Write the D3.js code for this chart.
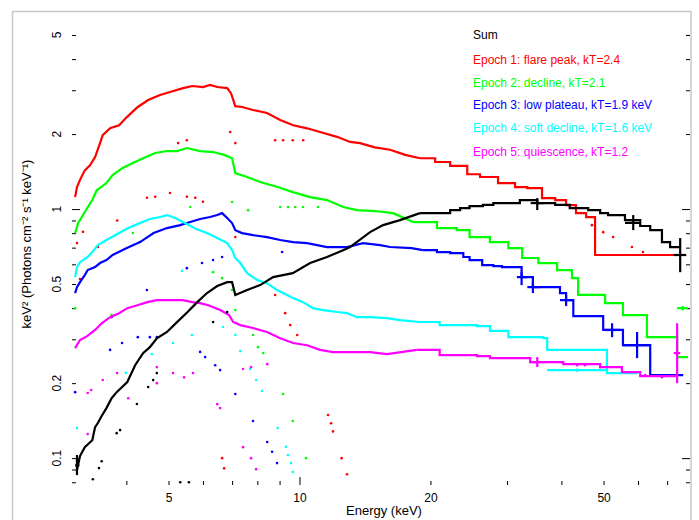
<!DOCTYPE html>
<html><head><meta charset="utf-8">
<script src="https://cdn.jsdelivr.net/npm/d3@7"></script>
<style>html,body{margin:0;padding:0;background:#fff;} svg{display:block;}</style>
</head><body>
<svg id="chart" width="699" height="520"></svg>
<script>
// Unfolded spectra: [energy keV, keV^2 flux] per bin (bin start for the wide bins)
const blackSpec = [[3.08,0.0895],[3.13,0.1019],[3.21,0.1107],[3.34,0.118],[3.39,0.1332],[3.44,0.1383],[3.51,0.1476],[3.60,0.1588],[3.70,0.174],[3.80,0.184],[4.02,0.202],[4.19,0.236],[4.37,0.264],[4.53,0.279],[4.70,0.303],[4.96,0.321],[5.23,0.3516],[5.53,0.386],[5.79,0.419],[6.13,0.460],[6.47,0.491],[6.82,0.509],[7.0,0.509],[7.12,0.452],[7.58,0.473],[8.12,0.495],[8.70,0.533],[9.65,0.553],[10.58,0.607],[11.57,0.642],[12.6,0.684],[13.07,0.704],[14.53,0.808],[15.57,0.862],[17.02,0.903],[18.92,0.963],[21.0,0.963],[22.2,0.991],[23.4,1.009],[24.6,1.028],[26.4,1.04],[27.9,1.057],[30.0,1.057],[32.1,1.087],[35.2,1.057],[38.7,1.04],[41.8,1.009],[46.1,0.991],[49.1,0.963],[51.2,0.946],[56.0,0.903],[60.7,0.855],[64.0,0.823],[68.1,0.737],[71.1,0.704]];
const redSpec = [[3.05,1.117],[3.08,1.226],[3.13,1.31],[3.21,1.43],[3.30,1.50],[3.39,1.618],[3.48,1.84],[3.53,1.98],[3.67,2.11],[3.85,2.17],[4.01,2.34],[4.25,2.57],[4.49,2.74],[4.78,2.87],[5.04,2.95],[5.40,3.06],[5.67,3.12],[6.0,3.09],[6.23,3.15],[6.47,3.09],[6.82,3.06],[6.96,2.92],[7.12,2.59],[7.38,2.57],[7.82,2.50],[8.42,2.43],[9.03,2.28],[9.67,2.17],[10.41,2.11],[11.15,2.04],[12.2,1.95],[13.07,1.86],[13.78,1.84],[14.9,1.77],[16.15,1.73],[17.5,1.65],[18.92,1.60],[20.5,1.545],[22.2,1.49],[24.3,1.38],[26.0,1.345],[28.6,1.27],[31.3,1.226],[33.4,1.214],[36.1,1.107],[38.7,1.087],[41.0,1.038],[43.2,0.963],[45.6,0.929],[47.8,0.654]];
const greenSpec = [[3.05,0.801],[3.10,0.879],[3.21,0.973],[3.34,1.087],[3.42,1.19],[3.60,1.272],[3.72,1.37],[3.92,1.461],[4.14,1.53],[4.37,1.60],[4.66,1.679],[4.96,1.71],[5.23,1.71],[5.51,1.758],[5.91,1.71],[6.33,1.694],[6.71,1.65],[7.0,1.60],[7.12,1.395],[7.58,1.345],[8.12,1.284],[8.91,1.226],[9.65,1.17],[10.58,1.117],[11.57,1.087],[12.6,1.019],[13.56,0.991],[14.92,0.982],[16.41,0.963],[18.24,0.887],[20.7,0.839],[23.0,0.823],[24.6,0.772],[27.4,0.737],[30.2,0.697],[32.5,0.636],[35.4,0.607],[39.1,0.569],[42.3,0.528],[43.7,0.452],[50.4,0.419],[55.4,0.375],[62.9,0.306],[73.8,0.2545]];
const blueSpec = [[3.05,0.460],[3.08,0.486],[3.13,0.509],[3.21,0.543],[3.26,0.569],[3.39,0.585],[3.48,0.607],[3.60,0.624],[3.72,0.654],[4.01,0.697],[4.30,0.737],[4.62,0.801],[4.96,0.839],[5.32,0.862],[5.61,0.887],[5.91,0.912],[6.23,0.929],[6.47,0.946],[6.64,0.963],[6.82,0.92],[7.0,0.879],[7.12,0.823],[7.38,0.801],[7.82,0.786],[8.42,0.772],[9.03,0.751],[9.67,0.737],[10.41,0.730],[11.57,0.704],[12.86,0.704],[14.0,0.730],[15.32,0.717],[16.15,0.704],[18.1,0.697],[19.2,0.684],[20.7,0.672],[22.2,0.666],[23.8,0.642],[24.6,0.624],[26.3,0.596],[27.9,0.590],[29.2,0.585],[30.8,0.585],[32.4,0.533],[34.4,0.486],[37.6,0.486],[39.7,0.460],[41.0,0.431],[42.6,0.3715],[49.9,0.327],[55.4,0.284],[64.0,0.2154]];
const cyanSpec = [[3.05,0.533],[3.08,0.585],[3.13,0.612],[3.26,0.642],[3.34,0.672],[3.44,0.717],[3.60,0.751],[3.85,0.801],[4.04,0.839],[4.30,0.879],[4.53,0.912],[4.78,0.929],[4.96,0.946],[5.18,0.920],[5.51,0.871],[5.79,0.831],[6.13,0.801],[6.47,0.765],[6.82,0.730],[7.0,0.684],[7.12,0.636],[7.31,0.607],[7.58,0.553],[7.99,0.519],[8.42,0.504],[8.88,0.473],[9.36,0.452],[9.67,0.439],[10.19,0.423],[10.74,0.40],[11.33,0.393],[12.2,0.386],[12.86,0.382],[13.56,0.368],[14.53,0.368],[15.9,0.365],[17.02,0.358],[18.92,0.352],[21.0,0.342],[23.4,0.342],[25.6,0.339],[27.4,0.324],[30.2,0.306],[33.0,0.306],[36.3,0.303],[37.1,0.272],[50.9,0.2195]];
const magentaSpec = [[3.05,0.2765],[3.13,0.298],[3.25,0.309],[3.39,0.327],[3.51,0.348],[3.67,0.368],[3.85,0.382],[4.02,0.40],[4.24,0.411],[4.47,0.423],[4.70,0.431],[5.04,0.431],[5.39,0.431],[5.67,0.423],[5.91,0.419],[6.17,0.411],[6.57,0.393],[6.89,0.375],[7.04,0.352],[7.31,0.342],[7.82,0.333],[8.42,0.321],[9.03,0.303],[9.67,0.290],[10.41,0.284],[11.15,0.272],[11.94,0.2665],[12.86,0.2665],[13.56,0.2665],[14.53,0.2665],[15.9,0.2616],[18.6,0.272],[21.0,0.259],[23.4,0.259],[25.6,0.2568],[27.4,0.252],[29.4,0.252],[33.9,0.243],[40.4,0.2384],[49.1,0.232],[55.1,0.2215],[60.7,0.2135]];

// Upper energy edge of the last bin of each spectrum
const specEnds = [75.0, 77.4, 78.2, 76.2, 59.7, 73.8];
// Above this energy the bins are wide enough to be drawn as steps
const stepAbove = 20;

// Wide high-energy bins: [E, value, E low, E high, value low, value high]
const blackErr = [[3.08,0.0935,3.05,3.12,0.0855,0.1029],[35.2,1.057,34.0,36.5,0.991,1.107],[58.5,0.88,56.0,60.7,0.823,0.946],[75.0,0.654,72.5,77.4,0.558,0.765]];
const redErr = [];
const greenErr = [[76.0,0.40,73.8,78.2,0.392,0.408]];
const blueErr = [[32.4,0.533,31.6,33.4,0.495,0.558],[34.4,0.486,33.4,35.7,0.460,0.514],[41.0,0.431,39.7,42.6,0.408,0.452],[52.3,0.327,50.4,54.6,0.306,0.348],[59.7,0.284,55.4,64.0,0.252,0.321]];
const cyanErr = [[43.5,0.2256,37.1,50.9,0.222,0.229]];
const magentaErr = [[73.8,0.264,72.5,75.0,0.200,0.348],[35.2,0.243,33.9,36.9,0.232,0.2545]];

// Model components, drawn dotted: [E, value]
const blackComp = [[6.33,0.352],[6.82,0.386],[4.23,0.165],[3.87,0.1296],[3.80,0.126],[4.49,0.193],[4.61,0.2057],[4.70,0.2195],[3.51,0.0972],[3.46,0.0912],[3.35,0.0823],[5.32,0.080],[5.57,0.080]];
const redComp = [[5.26,1.84],[5.51,1.89],[6.93,2.04],[7.12,1.84],[8.79,1.89],[9.17,1.89],[9.65,1.89],[10.2,1.89],[4.46,1.11],[4.66,1.12],[5.04,1.16],[5.51,1.12],[5.76,1.11],[6.0,1.07],[3.08,0.73],[3.18,0.81],[3.44,0.704],[3.81,0.90],[3.13,0.524],[7.12,0.772],[8.79,0.452],[9.27,0.382],[9.52,0.342],[9.88,0.312],[11.63,0.149],[11.82,0.138],[11.94,0.128],[6.64,0.100],[6.71,0.091],[12.5,0.100],[12.86,0.0862],[47.0,0.862],[49.9,0.808],[52.6,0.772],[58.1,0.704],[61.6,0.672]];
const greenComp = [[5.61,1.019],[7.0,1.067],[7.62,0.99],[9.03,1.019],[9.41,1.019],[9.77,1.019],[10.19,1.019],[11.03,1.019],[4.14,0.801],[4.30,0.737],[6.33,0.558],[6.64,0.528],[7.0,0.473],[7.12,0.393],[7.82,0.312],[8.03,0.279],[8.25,0.264],[9.17,0.181],[9.65,0.141],[10.35,0.100],[3.05,0.40],[3.70,0.375]];
const blueComp = [[9.12,0.672],[5.97,0.607],[6.33,0.624],[6.64,0.642],[5.51,0.579],[4.46,0.473],[3.70,0.3684],[3.91,0.290],[4.25,0.306],[4.53,0.306],[4.70,0.306],[3.67,0.272],[5.91,0.267],[6.07,0.2545],[6.40,0.236],[6.57,0.2256],[7.12,0.181],[7.82,0.141],[8.43,0.116],[8.65,0.106],[8.88,0.0955],[3.05,0.184]];
const cyanComp = [[5.37,0.564],[5.12,0.290],[5.66,0.312],[6.67,0.336],[7.12,0.312],[7.31,0.269],[7.70,0.228],[7.95,0.206],[8.20,0.186],[8.91,0.132],[9.31,0.111],[9.41,0.103],[9.56,0.0955],[9.65,0.0879],[4.58,0.262],[3.99,0.22],[3.08,0.132]];
const magentaComp = [[3.53,0.206],[3.81,0.2195],[4.04,0.174],[3.26,0.1826],[3.32,0.1876],[4.70,0.232],[4.70,0.200],[5.12,0.2195],[5.43,0.211],[5.69,0.2195],[6.47,0.1647],[6.57,0.1588],[7.42,0.228],[7.74,0.232],[8.43,0.2384],[7.42,0.1107],[7.74,0.100],[7.95,0.0903],[3.26,0.1249],[40.1,0.243],[43.5,0.236],[45.3,0.236],[49.1,0.232],[62.3,0.2154],[68.1,0.2114]];

const legendLabels = ["Sum", "Epoch 1: flare peak, kT=2.4", "Epoch 2: decline, kT=2.1", "Epoch 3: low plateau, kT=1.9 keV", "Epoch 4: soft decline, kT=1.6 keV", "Epoch 5: quiescence, kT=1.2"];
const colors = ["#000000", "#ff0000", "#00ff00", "#0000ff", "#00ffff", "#ff00ff"];

const xTickLabels = [5, 10, 20, 50];
const xMinorTicks = [4, 5, 6, 7, 8, 9, 20, 30, 40, 50, 60, 70];
const xMajorTicks = [10];
const yTickLabels = [0.1, 0.2, 0.5, 1, 2, 5];
const yMinorTicks = [0.08, 0.09, 0.2, 0.3, 0.4, 0.5, 0.6, 0.7, 0.8, 0.9, 2, 3, 4, 5];
const yMajorTicks = [0.1, 1];

const FONT = "'Liberation Sans', Arial, sans-serif";
const L = 72, R = 690, T = 18, B = 485;
const x = d3.scaleLog().domain([3, 79]).range([L, R]);
const y = d3.scaleLog().domain([0.078, 5.85]).range([B, T]);

const svg = d3.select("#chart");
svg.append("rect").attr("x", 12.5).attr("y", 11.5).attr("width", 678.5).attr("height", 530)
  .attr("fill", "none").attr("stroke", "#c8c8c8").attr("stroke-width", 1.5);

svg.append("clipPath").attr("id", "clip").append("rect")
  .attr("x", L).attr("y", T).attr("width", R - L).attr("height", B - T);

// Tick marks drawn inside the frame
function ticks(axisFn, vals, size, tr) {
  const g = svg.append("g").attr("transform", tr)
    .call(axisFn.tickValues(vals).tickSize(size).tickFormat(""));
  g.select(".domain").remove();
  g.selectAll(".tick line").attr("stroke", "#000").attr("stroke-width", 1);
}
ticks(d3.axisBottom(x), xMinorTicks, -4, `translate(0,${B})`);
ticks(d3.axisBottom(x), xMajorTicks, -8, `translate(0,${B})`);
ticks(d3.axisLeft(y), yMinorTicks, -4, `translate(${L},0)`);
ticks(d3.axisLeft(y), yMajorTicks, -8, `translate(${L},0)`);
ticks(d3.axisRight(y), yMinorTicks, -4, `translate(${R},0)`);
ticks(d3.axisRight(y), yMajorTicks, -8, `translate(${R},0)`);

// X tick labels
const xl = svg.append("g").attr("transform", `translate(0,${B})`)
  .call(d3.axisBottom(x).tickValues(xTickLabels).tickSize(0).tickPadding(8).tickFormat(d3.format("d")));
xl.select(".domain").remove();
xl.selectAll("text").attr("font-family", FONT).attr("font-size", 12).attr("fill", "#000");

// Y tick labels, vertical as in the original plotting package
svg.append("g").selectAll("text").data(yTickLabels).join("text")
  .attr("transform", d => `translate(61,${y(d)}) rotate(-90)`)
  .attr("text-anchor", "middle").attr("font-family", FONT).attr("font-size", 12).attr("fill", "#000")
  .text(d => d);

// Axis titles
svg.append("text").attr("x", 384).attr("y", 515).attr("text-anchor", "middle")
  .attr("font-family", FONT).attr("font-size", 13).text("Energy (keV)");
svg.append("text").attr("transform", "translate(31,244) rotate(-90)").attr("text-anchor", "middle")
  .attr("font-family", FONT).attr("font-size", 13).text("keV\u00b2 (Photons cm\u207b\u00b2 s\u207b\u00b9 keV\u207b\u00b9)");

const specs = [blackSpec, redSpec, greenSpec, blueSpec, cyanSpec, magentaSpec];
const errs = [blackErr, redErr, greenErr, blueErr, cyanErr, magentaErr];
const comps = [blackComp, redComp, greenComp, blueComp, cyanComp, magentaComp];

const plot = svg.append("g").attr("clip-path", "url(#clip)");
const dense = d3.line().x(d => x(d[0])).y(d => y(d[1]));
const step = d3.line().x(d => x(d[0])).y(d => y(d[1])).curve(d3.curveStepAfter);

// draw order: colours first, black on top
[1, 2, 3, 4, 5, 0].forEach(i => {
  const c = colors[i];
  const g = plot.append("g");
  g.selectAll("circle").data(comps[i]).join("circle")
    .attr("cx", d => x(d[0])).attr("cy", d => y(d[1])).attr("r", 1.3).attr("fill", c);
  const s = specs[i];
  const k = s.findIndex(d => d[0] > stepAbove);
  const lo = s.slice(0, k);
  const hi = s.slice(k - 1).concat([[specEnds[i], s[s.length - 1][1]]]);
  [dense(lo), step(hi)].forEach(dd => g.append("path").attr("d", dd).attr("fill", "none")
    .attr("stroke", c).attr("stroke-width", 2.2).attr("stroke-linejoin", "miter"));
  errs[i].forEach(d => {
    g.append("line").attr("x1", x(d[2])).attr("x2", x(d[3])).attr("y1", y(d[1])).attr("y2", y(d[1]))
      .attr("stroke", c).attr("stroke-width", 2.2);
    g.append("line").attr("x1", x(d[0])).attr("x2", x(d[0])).attr("y1", y(d[4])).attr("y2", y(d[5]))
      .attr("stroke", c).attr("stroke-width", 2.2);
  });
});

// Legend
svg.append("g").selectAll("text").data(legendLabels).join("text")
  .attr("x", 473).attr("y", (d, i) => [39, 64, 87, 109, 132, 156][i])
  .attr("font-family", FONT).attr("font-size", 12).attr("fill", (d, i) => colors[i])
  .text(d => d);
</script>
</body></html>
